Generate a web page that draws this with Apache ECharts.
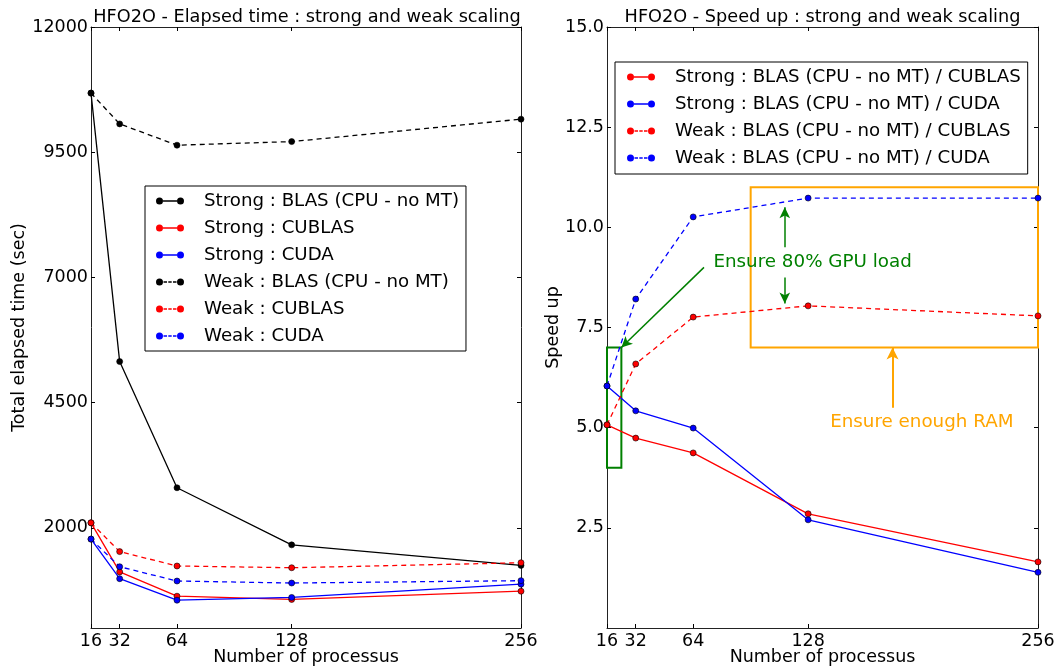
<!DOCTYPE html>
<html>
<head>
<meta charset="utf-8">
<script src="https://cdn.jsdelivr.net/npm/echarts@6/dist/echarts.min.js"></script>
<style>html,body{margin:0;padding:0;background:#fff}#c{width:1060px;height:670px}</style>
</head>
<body>
<div id="c"></div>
<script>
// ---- data ----
const procs = [16, 32, 64, 128, 256];
const xTicks = [16, 32, 64, 128, 256];
const timeTicks = [2000, 4500, 7000, 9500, 12000];
const speedTicks = [2.5, 5, 7.5, 10, 12.5, 15];

const strongBlas   = [10680, 5320, 2800, 1660, 1250];
const strongCublas = [2100, 1120, 635, 570, 735];
const strongCuda   = [1775, 985, 555, 610, 875];
const weakBlas     = [10680, 10065, 9640, 9712, 10160];
const weakCublas   = [2100, 1525, 1238, 1203, 1303];
const weakCuda     = [1775, 1223, 938, 898, 945];

const speedStrongCublas = [5.07, 4.74, 4.37, 2.85, 1.65];
const speedStrongCuda   = [6.04, 5.42, 4.99, 2.70, 1.39];
const speedWeakCublas   = [5.07, 6.59, 7.76, 8.04, 7.79];
const speedWeakCuda     = [6.04, 8.21, 10.26, 10.73, 10.73];

const leftNames = ['Strong : BLAS (CPU - no MT)', 'Strong : CUBLAS', 'Strong : CUDA',
                   'Weak : BLAS (CPU - no MT)', 'Weak : CUBLAS', 'Weak : CUDA'];
const rightNames = ['Strong : BLAS (CPU - no MT) / CUBLAS', 'Strong : BLAS (CPU - no MT) / CUDA',
                    'Weak : BLAS (CPU - no MT) / CUBLAS', 'Weak : BLAS (CPU - no MT) / CUDA'];

const gpuText = 'Ensure 80% GPU load';
const ramText = 'Ensure enough RAM';

// ---- chart ----
const FONT = 'DejaVu Sans';
const BLACK = '#000000', RED = '#ff0000', BLUE = '#0000ff', GREEN = '#008000', ORANGE = '#ffa500';
const solidIcon = 'path://M0,3.5a3.5,3.5 0 1,0 7,0a3.5,3.5 0 1,0 -7,0Z M21,3.5a3.5,3.5 0 1,0 7,0a3.5,3.5 0 1,0 -7,0Z M7,2.8H21V4.2H7Z';
const dashIcon = 'path://M0,3.5a3.5,3.5 0 1,0 7,0a3.5,3.5 0 1,0 -7,0Z M21,3.5a3.5,3.5 0 1,0 7,0a3.5,3.5 0 1,0 -7,0Z M7.5,2.8H11V4.2H7.5Z M12.3,2.8H15.7V4.2H12.3Z M17,2.8H20.5V4.2H17Z';

function pts(arr) { return procs.map((x, i) => [x, arr[i]]); }
function line(name, arr, color, dashed, idx) {
  return {
    type: 'line', name: name, data: pts(arr),
    xAxisIndex: idx, yAxisIndex: idx,
    symbol: 'circle', symbolSize: 6, showSymbol: true,
    itemStyle: { color: color, borderColor: '#000', borderWidth: 0.6 },
    lineStyle: { color: color, width: 1.3, type: dashed ? [5, 4] : 'solid' },
    emphasis: { disabled: true },
    z: 3
  };
}

const axisCommonX = (gridIndex, pos, showLabel, name) => ({
  type: 'value', gridIndex: gridIndex, position: pos, min: 16, max: 256,
  splitLine: { show: false },
  axisLine: { show: true, onZero: false, lineStyle: { color: '#222', width: 1 } },
  axisTick: { show: true, inside: true, length: 4, customValues: xTicks, lineStyle: { color: '#000' } },
  axisLabel: { show: showLabel, customValues: xTicks, color: '#000', fontSize: 17.5, fontFamily: FONT, margin: 4, showMinLabel: true, showMaxLabel: true },
  name: name || '', nameLocation: 'middle', nameGap: 20, nameMoveOverlap: false,
  nameTextStyle: { color: '#000', fontSize: 17.5, fontFamily: FONT }
});
const axisCommonY = (gridIndex, pos, showLabel, min, max, ticks, fmt, name, gap) => ({
  type: 'value', gridIndex: gridIndex, position: pos, min: min, max: max,
  splitLine: { show: false },
  axisLine: { show: true, onZero: false, lineStyle: { color: '#222', width: 1 } },
  axisTick: { show: true, inside: true, length: 4, customValues: ticks, lineStyle: { color: '#000' } },
  axisLabel: { show: showLabel, customValues: ticks, color: '#000', fontSize: 17.5, fontFamily: FONT, margin: 3, formatter: fmt, showMinLabel: true, showMaxLabel: true },
  name: name || '', nameLocation: 'middle', nameGap: gap || 0, nameRotate: 90, nameMoveOverlap: false,
  nameTextStyle: { color: '#000', fontSize: 17.5, fontFamily: FONT }
});

const legendBase = {
  orient: 'vertical', selectedMode: false,
  itemWidth: 28, itemHeight: 7, itemGap: 9,
  backgroundColor: '#fff', borderColor: '#000', borderWidth: 1, borderRadius: 0,
  itemStyle: { borderWidth: 0 },
  textStyle: { color: '#000', fontSize: 18.2, fontFamily: FONT, lineHeight: 18, padding: [0, 0, 0, 15] }
};
const iconFor = (names) => names.map((n) => ({ name: n, icon: (n.indexOf('Weak') === 0) ? dashIcon : solidIcon }));

const series = [
  line(leftNames[0], strongBlas, BLACK, false, 0),
  line(leftNames[1], strongCublas, RED, false, 0),
  line(leftNames[2], strongCuda, BLUE, false, 0),
  line(leftNames[3], weakBlas, BLACK, true, 0),
  line(leftNames[4], weakCublas, RED, true, 0),
  line(leftNames[5], weakCuda, BLUE, true, 0),
  line(rightNames[0], speedStrongCublas, RED, false, 2),
  line(rightNames[1], speedStrongCuda, BLUE, false, 2),
  line(rightNames[2], speedWeakCublas, RED, true, 2),
  line(rightNames[3], speedWeakCuda, BLUE, true, 2)
];

series[6].markArea = {
  silent: true, z: 2,
  label: { show: false },
  data: [
    [{ coord: [16, 7], itemStyle: { color: 'rgba(0,0,0,0)', borderColor: GREEN, borderWidth: 2 } }, { coord: [24, 4] }],
    [{ coord: [96, 11], itemStyle: { color: 'rgba(0,0,0,0)', borderColor: ORANGE, borderWidth: 2 } }, { coord: [256, 7] }]
  ]
};
series[6].markLine = {
  silent: true, symbol: ['none', 'arrow'], symbolSize: [8, 11],
  label: { show: false }, emphasis: { disabled: true },
  lineStyle: { color: GREEN, width: 1.5, type: 'solid' },
  data: [
    [{ coord: [70, 9] }, { coord: [24, 7] }],
    [{ coord: [115, 9.5] }, { coord: [115, 10.5] }],
    [{ coord: [115, 8.75] }, { coord: [115, 8.1] }]
  ]
};
series[7].markLine = {
  silent: true, symbol: ['none', 'arrow'], symbolSize: [9, 12],
  label: { show: false }, emphasis: { disabled: true },
  lineStyle: { color: ORANGE, width: 2, type: 'solid' },
  data: [[{ coord: [175, 5.5] }, { coord: [175, 7.0] }]]
};
series[8].markPoint = {
  silent: true, symbol: 'circle', symbolSize: 1,
  itemStyle: { color: 'rgba(0,0,0,0)' },
  label: { show: true, position: 'right', distance: 0, fontSize: 18.3, fontFamily: FONT },
  data: [
    { coord: [75, 9.12], label: { formatter: gpuText, color: GREEN } },
    { coord: [140, 5.13], label: { formatter: ramText, color: ORANGE } }
  ]
};

const option = {
  animation: false,
  backgroundColor: '#fff',
  textStyle: { fontFamily: FONT },
  grid: [
    { left: 91, top: 27, width: 430, height: 601, outerBoundsMode: 'none', containLabel: false },
    { left: 607, top: 27, width: 431, height: 601, outerBoundsMode: 'none', containLabel: false }
  ],
  xAxis: [
    axisCommonX(0, 'bottom', true, 'Number of processus'),
    axisCommonX(0, 'top', false),
    axisCommonX(1, 'bottom', true, 'Number of processus'),
    axisCommonX(1, 'top', false)
  ],
  yAxis: [
    axisCommonY(0, 'left', true, 0, 12000, timeTicks, v => String(v), 'Total elapsed time (sec)', 63),
    axisCommonY(0, 'right', false, 0, 12000, timeTicks),
    axisCommonY(1, 'left', true, 0, 15, speedTicks, v => Number(v).toFixed(1), 'Speed up', 45),
    axisCommonY(1, 'right', false, 0, 15, speedTicks)
  ],
  legend: [
    Object.assign({}, legendBase, { left: 145, top: 186, padding: [6, 7, 6, 11], data: iconFor(leftNames) }),
    Object.assign({}, legendBase, { left: 615, top: 62, padding: [6, 7, 7, 12], data: iconFor(rightNames) })
  ],
  graphic: [
    { type: 'text', x: 307, y: 17, silent: true,
      style: { text: 'HFO2O - Elapsed time : strong and weak scaling', font: '17.7px "DejaVu Sans"', fill: '#000', align: 'center', verticalAlign: 'middle', textAlign: 'center', textVerticalAlign: 'middle' } },
    { type: 'text', x: 822.5, y: 17, silent: true,
      style: { text: 'HFO2O - Speed up : strong and weak scaling', font: '17.7px "DejaVu Sans"', fill: '#000', align: 'center', verticalAlign: 'middle', textAlign: 'center', textVerticalAlign: 'middle' } }
  ],
  series: series
};

const chart = echarts.init(document.getElementById('c'), null, { renderer: 'canvas' });
chart.setOption(option);
</script>
</body>
</html>
